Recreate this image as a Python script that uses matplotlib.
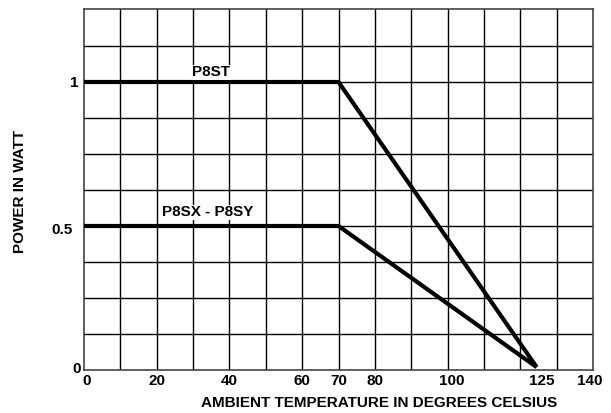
import matplotlib
matplotlib.use("Agg")
import matplotlib.pyplot as plt
import matplotlib.transforms as mtransforms
import numpy as np

plt.rcParams['font.family'] = ['Liberation Sans', 'DejaVu Sans']
plt.rcParams['font.weight'] = 'bold'

# data
p8st_x = [0, 70, 124.5]
p8st_y = [1.0, 1.0, 0.01]
p8sx_x = [0, 70, 124.5]
p8sx_y = [0.5, 0.5, 0.01]
xtick_vals = [0, 20, 40, 60, 70, 80, 100, 125, 140]
ytick_vals = [0, 0.5, 1]
ytick_labels = ["0", "0.5", "1"]

fig = plt.figure(figsize=(6.11, 4.13), dpi=100)
ax = fig.add_axes([84/611, 1 - 370/413, (593-84)/611, (370-8.7)/413])
ax.set_xlim(0, 140)
ax.set_ylim(0, 1.2545)

for gx in np.arange(10, 140, 10):
    ax.axvline(gx, color='black', lw=1.0, zorder=1)
for gy in np.arange(0.125, 1.25, 0.125):
    ax.axhline(gy, color='black', lw=1.0, zorder=1)

ax.plot(p8st_x, p8st_y, color='black', lw=3, solid_capstyle='butt', zorder=3)
ax.plot(p8sx_x, p8sx_y, color='black', lw=3, solid_capstyle='butt', zorder=3)

ax.text(35.0, 1.033, "P8ST", ha='center', va='center', fontsize=11, fontweight='bold',
        bbox=dict(facecolor='white', edgecolor='none', pad=0.5), zorder=4)
ax.text(34.0, 0.547, "P8SX - P8SY", ha='center', va='center', fontsize=11, fontweight='bold',
        bbox=dict(facecolor='white', edgecolor='none', pad=0.5), zorder=4)

for s in ax.spines.values():
    s.set_color('#444444')
    s.set_linewidth(1.2)

ax.set_xticks(xtick_vals)
ax.set_xticklabels([str(v) for v in xtick_vals], fontsize=11, fontweight='bold')
ax.set_yticks(ytick_vals)
ax.set_yticklabels(ytick_labels, fontsize=11, fontweight='bold')
ax.tick_params(axis='x', length=0, pad=3)
ax.tick_params(axis='y', length=0, pad=2)

# per-label fine offsets (points)
y_off = {"0": (0, 1.5), "0.5": (-6, -1.5), "1": (-2, 0)}
for lbl in ax.get_yticklabels():
    dx, dy = y_off.get(lbl.get_text(), (0, 0))
    lbl.set_transform(lbl.get_transform() + mtransforms.ScaledTranslation(dx/72, dy/72, fig.dpi_scale_trans))
x_off = {"0": (2, 0), "100": (3, 0), "125": (2.5, 0), "140": (-2, 0)}
for lbl in ax.get_xticklabels():
    dx, dy = x_off.get(lbl.get_text(), (0, 0))
    lbl.set_transform(lbl.get_transform() + mtransforms.ScaledTranslation(dx/72, dy/72, fig.dpi_scale_trans))

fig.text(379/611, 1 - 403/413, "AMBIENT TEMPERATURE IN DEGREES CELSIUS", ha='center', va='center',
         fontsize=11, fontweight='bold')
fig.text(20/611, 1 - 191/413, "POWER IN WATT", ha='center', va='center', rotation=90,
         fontsize=11, fontweight='bold')

fig.savefig("out.png", dpi=100)
